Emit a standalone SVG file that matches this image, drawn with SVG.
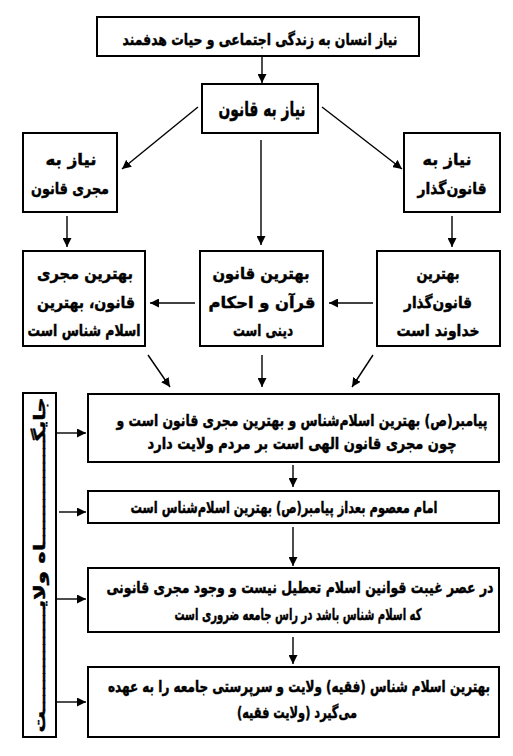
<svg xmlns="http://www.w3.org/2000/svg" width="513" height="756" viewBox="0 0 513 756">
<defs>
<marker id="ah" viewBox="0 0 10 10" refX="10" refY="5" markerWidth="9" markerHeight="9" markerUnits="userSpaceOnUse" orient="auto">
<path d="M0,0 L10,5 L0,10 z" fill="#000"/>
</marker>
<style>
.box{fill:#fff;stroke:#000;stroke-width:2}
.t{font-family:"DejaVu Sans",sans-serif;font-weight:bold;font-size:16px;text-anchor:middle;fill:#000;stroke:#000;stroke-width:0.45}
.big{font-size:20px}
.c{stroke:#000;stroke-width:1.4;fill:none;marker-end:url(#ah)}
</style>
</defs>
<rect width="513" height="756" fill="#fff"/>
<g id="n-top"><rect class="box" x="97" y="17" width="322" height="39"/>
<text class="t" x="260" y="45" direction="rtl" textLength="275" lengthAdjust="spacingAndGlyphs">نیاز انسان به زندگی اجتماعی و حیات هدفمند</text></g>
<g id="n-law"><rect class="box" x="202" y="84" width="116" height="49"/>
<text class="t big" x="262" y="116" direction="rtl" textLength="87" lengthAdjust="spacingAndGlyphs">نیاز به قانون</text></g>
<g id="n-exec"><rect class="box" x="23" y="133" width="94" height="79"/>
<text class="t" x="71" y="165" direction="rtl" textLength="51" lengthAdjust="spacingAndGlyphs">نیاز به</text>
<text class="t" x="70" y="194" direction="rtl" textLength="78" lengthAdjust="spacingAndGlyphs">مجری قانون</text></g>
<g id="n-legis"><rect class="box" x="404" y="133" width="96" height="79"/>
<text class="t" x="447" y="165" direction="rtl" textLength="49" lengthAdjust="spacingAndGlyphs">نیاز به</text>
<text class="t" x="452" y="194" direction="rtl" textLength="69" lengthAdjust="spacingAndGlyphs">قانون‌گذار</text></g>
<g id="n-bexec"><rect class="box" x="23" y="251" width="122" height="95"/>
<text class="t" x="85" y="279" direction="rtl" textLength="96" lengthAdjust="spacingAndGlyphs">بهترین مجری</text>
<text class="t" x="86" y="308" direction="rtl" textLength="98" lengthAdjust="spacingAndGlyphs">قانون،  بهترین</text>
<text class="t" x="84" y="336" direction="rtl" textLength="113" lengthAdjust="spacingAndGlyphs">اسلام شناس است</text></g>
<g id="n-blaw"><rect class="box" x="200" y="251" width="123" height="95"/>
<text class="t" x="261" y="279" direction="rtl" textLength="97" lengthAdjust="spacingAndGlyphs">بهترین قانون</text>
<text class="t" x="262" y="308" direction="rtl" textLength="107" lengthAdjust="spacingAndGlyphs">قرآن و احکام</text>
<text class="t" x="263" y="336" direction="rtl" textLength="60" lengthAdjust="spacingAndGlyphs">دینی است</text></g>
<g id="n-blegis"><rect class="box" x="377" y="251" width="123" height="95"/>
<text class="t" x="438" y="279" direction="rtl" textLength="43" lengthAdjust="spacingAndGlyphs">بهترین</text>
<text class="t" x="438" y="308" direction="rtl" textLength="68" lengthAdjust="spacingAndGlyphs">قانون‌گذار</text>
<text class="t" x="438" y="336" direction="rtl" textLength="83" lengthAdjust="spacingAndGlyphs">خداوند است</text></g>
<g id="n-side"><rect class="box" x="23" y="393" width="33" height="344"/>
<text class="t" transform="translate(45,565) rotate(-90)" direction="rtl" textLength="335" lengthAdjust="spacingAndGlyphs">جایگــــــــــــــاه ولایــــــــــــــت</text></g>
<g id="n-a"><rect class="box" x="88" y="394" width="411" height="68"/>
<text class="t" x="302" y="426" direction="rtl" textLength="371" lengthAdjust="spacingAndGlyphs">پیامبر(ص) بهترین اسلام‌شناس و بهترین مجری قانون است و</text>
<text class="t" x="302" y="449" direction="rtl" textLength="309" lengthAdjust="spacingAndGlyphs">چون مجری قانون الهی است بر مردم ولایت دارد</text></g>
<g id="n-b"><rect class="box" x="88" y="491" width="411" height="32"/>
<text class="t" x="284" y="513" direction="rtl" textLength="307" lengthAdjust="spacingAndGlyphs">امام معصوم بعداز پیامبر(ص) بهترین اسلام‌شناس است</text></g>
<g id="n-c"><rect class="box" x="88" y="568" width="411" height="64"/>
<text class="t" x="300" y="593" direction="rtl" textLength="387" lengthAdjust="spacingAndGlyphs">در عصر غیبت قوانین اسلام تعطیل نیست و  وجود مجری قانونی</text>
<text class="t" x="298" y="620" direction="rtl" textLength="247" lengthAdjust="spacingAndGlyphs">که اسلام شناس باشد در راس جامعه ضروری است</text></g>
<g id="n-d"><rect class="box" x="88" y="667" width="411" height="70"/>
<text class="t" x="299" y="692" direction="rtl" textLength="382" lengthAdjust="spacingAndGlyphs">بهترین اسلام شناس (فقیه) ولایت و سرپرستی جامعه را به عهده</text>
<text class="t" x="297" y="718" direction="rtl" textLength="120" lengthAdjust="spacingAndGlyphs">می‌گیرد  (ولایت فقیه)</text></g>
<g id="connectors">
<line class="c" x1="262" y1="57" x2="262" y2="83"/>
<line class="c" x1="198" y1="107" x2="122" y2="169"/>
<line class="c" x1="322" y1="107" x2="402" y2="169"/>
<line class="c" x1="261" y1="140" x2="261" y2="245"/>
<line class="c" x1="67" y1="216" x2="67" y2="247"/>
<line class="c" x1="452" y1="216" x2="452" y2="247"/>
<line class="c" x1="373" y1="303" x2="329" y2="303"/>
<line class="c" x1="195" y1="303" x2="150" y2="303"/>
<line class="c" x1="148" y1="355" x2="170" y2="387"/>
<line class="c" x1="262" y1="355" x2="262" y2="387"/>
<line class="c" x1="373" y1="355" x2="352" y2="387"/>
<line class="c" x1="293" y1="465" x2="293" y2="487"/>
<line class="c" x1="293" y1="527" x2="293" y2="566"/>
<line class="c" x1="293" y1="637" x2="293" y2="664"/>
<line class="c" x1="57" y1="433" x2="86" y2="433"/>
<line class="c" x1="59" y1="512" x2="86" y2="512"/>
<line class="c" x1="57" y1="599" x2="86" y2="599"/>
<line class="c" x1="57" y1="702" x2="86" y2="702"/>
</g>
</svg>
